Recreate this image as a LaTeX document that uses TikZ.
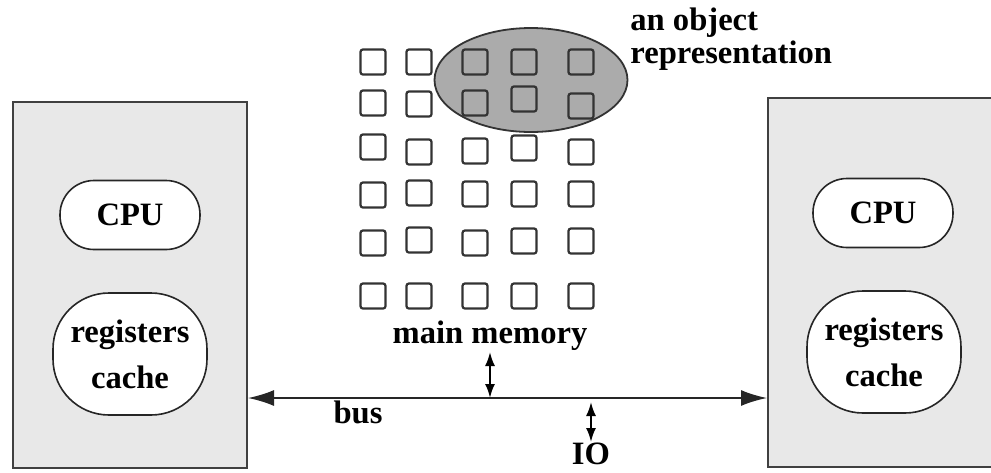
\documentclass[tikz,border=0pt]{standalone}
\usepackage{fontspec}
\setmainfont{Liberation Serif}
\usetikzlibrary{arrows.meta}
\begin{document}
\begin{tikzpicture}[x=0.5pt,y=-0.5pt,
  font=\fontsize{16.3}{23}\selectfont\bfseries,
  procbox/.style={draw=black!75,line width=1pt,fill=black!9,inner sep=0pt},
  cpubox/.style={draw=black!85,line width=0.8pt,fill=white,rounded corners=17pt,minimum width=70pt,minimum height=34.5pt,inner sep=0pt},
  regbox/.style={draw=black!85,line width=0.8pt,fill=white,rounded corners=28pt,minimum width=77pt,minimum height=61pt,inner sep=0pt,align=center},
  cell/.style={draw=black!80,line width=1.1pt,rounded corners=1.2pt,minimum size=12.5pt,inner sep=0pt},
  busarrow/.style={{Latex[length=13pt,width=8pt]}-{Latex[length=13pt,width=8pt]},line width=0.9pt,draw=black!85},
  smallarrow/.style={{Latex[length=7pt,width=5pt]}-{Latex[length=7pt,width=5pt]},line width=1pt},
  lbl/.style={inner sep=0pt,anchor=base}]
\useasboundingbox (0,0) rectangle (991,472);
% processor boxes
\node[procbox,minimum width=117pt,minimum height=183pt] (lbox) at (130,285) {};
\node[procbox,minimum width=116pt,minimum height=184.5pt] (rbox) at (884,282.5) {};
\node[cpubox] (lcpu) at (130,215) {CPU};
\node[regbox] (lreg) at (130,354) {registers\\cache};
\node[cpubox] (rcpu) at (883,213) {CPU};
\node[regbox] (rreg) at (884,352) {registers\\cache};
% object ellipse
\fill[black!33] (531,80) ellipse [x radius=96.5,y radius=52];
\draw[black!80,line width=0.9pt] (531,80) ellipse [x radius=96.5,y radius=52];
\node (objell) at (531,80) {};
% memory cells
\foreach \x/\y [count=\i] in {
  373/62,419/62,475/62,524/62,581/62,
  373/103,419/104,475/103,524/99,581/106,
  373/147,419/152,475/151,524/148,581/152,
  373/195,419/193,475/194,524/194,581/194,
  373/243,419/240,475/243,524/241,581/241,
  373/296,419/296,475/296,524/296,581/296}
  \node[cell] (c\i) at (\x,\y) {};
% labels
\node[lbl,anchor=base west] (objl1) at (630,30) {an object};
\node[lbl,anchor=base west] (objl2) at (630,63) {representation};
\node[lbl] (mm) at (490,343) {main memory};
\node[lbl] (bus) at (358,423) {bus};
\node[lbl] (io) at (591,464) {IO};
% bus
\coordinate (busy) at (0,398);
\draw[busarrow] (lbox.east |- busy) -- (rbox.west |- busy);
\coordinate (mmtop) at (490,352);
\draw[smallarrow] (mmtop) -- (mmtop |- busy);
\coordinate (iotop) at (591,402);
\coordinate (iobot) at (591,442);
\draw[smallarrow] (iotop) -- (iobot);
\end{tikzpicture}
\end{document}
